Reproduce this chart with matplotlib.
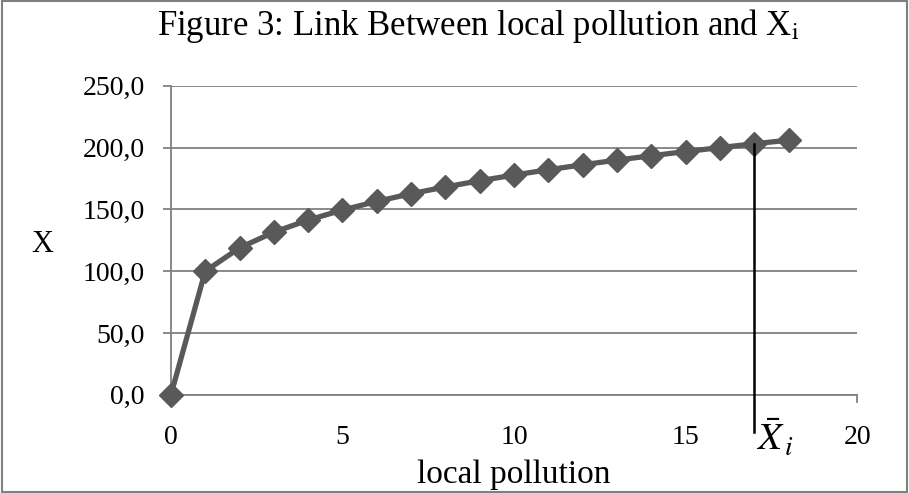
import numpy as np
import matplotlib.pyplot as plt
from matplotlib.ticker import FuncFormatter

# values
pollution = [0, 1, 2, 3, 4, 5, 6, 7, 8, 9, 10, 11, 12, 13, 14, 15, 16, 17, 18]
x_vals = [0.0, 100.0, 118.9, 131.6, 141.4, 149.5, 156.5, 162.7, 168.2, 173.2,
          177.8, 182.1, 186.1, 189.9, 193.4, 196.8, 200.0, 203.1, 206.0]
x_bar_pos = 17
x_bar_top = 203.1

plt.rcParams['font.family'] = ['Liberation Serif', 'DejaVu Serif']
plt.rcParams['mathtext.fontset'] = 'stix'

fig = plt.figure(figsize=(9.09, 4.93), dpi=100)
ax = fig.add_axes([0.188, 0.199, 0.755, 0.627])

grey = '#808080'
ax.plot(pollution, x_vals, color='#595959', lw=3.8, marker='D', ms=12,
        markerfacecolor='#595959', markeredgecolor='#595959', zorder=3,
        clip_on=False)

ax.set_xlim(0, 20)
ax.set_ylim(0, 250)
ax.set_xticks([0, 5, 10, 15, 20])
ax.set_yticks(np.arange(0, 251, 50))
ax.yaxis.set_major_formatter(FuncFormatter(lambda v, p: f"{v:.1f}".replace('.', ',')))
ax.grid(axis='y', color=grey, lw=1.3)
for s in ['top', 'right']:
    ax.spines[s].set_visible(False)
ax.spines['left'].set_color(grey)
ax.spines['bottom'].set_color(grey)
ax.spines['left'].set_linewidth(1.3)
ax.spines['bottom'].set_linewidth(1.3)
ax.tick_params(axis='y', length=6, color=grey, width=1.3, labelsize=20, pad=13)
ax.tick_params(axis='x', length=0, labelsize=20, pad=22)
# small tick at the right end of the x axis
ax.plot([20, 20], [0, -6], color=grey, lw=1.3, clip_on=False)

# vertical marker line for X-bar_i
ax.plot([x_bar_pos, x_bar_pos], [x_bar_top, -30], color='black', lw=1.8,
        clip_on=False, zorder=4)
ax.text(x_bar_pos + 0.05, -19, r'$\bar{X}_{\,i}$', fontsize=28, va='top',
        ha='left')

ax.set_xlabel('local pollution', fontsize=24, va='baseline')
ax.xaxis.set_label_coords(0.5, -0.285)
ax.set_ylabel('X', fontsize=22, rotation=0, ha='center', va='center')
ax.yaxis.set_label_coords(-0.188, 0.485)
fig.text(0.526, 0.948, 'Figure 3: Link Between local pollution and X$_\\mathrm{i}$',
         ha='center', va='center', fontsize=25)

# outer border
fig.patches.append(plt.Rectangle((0.002, 0.002), 0.996, 0.996, transform=fig.transFigure,
                                 fill=False, edgecolor=grey, lw=1.5))

fig.savefig('out.png', dpi=100)
